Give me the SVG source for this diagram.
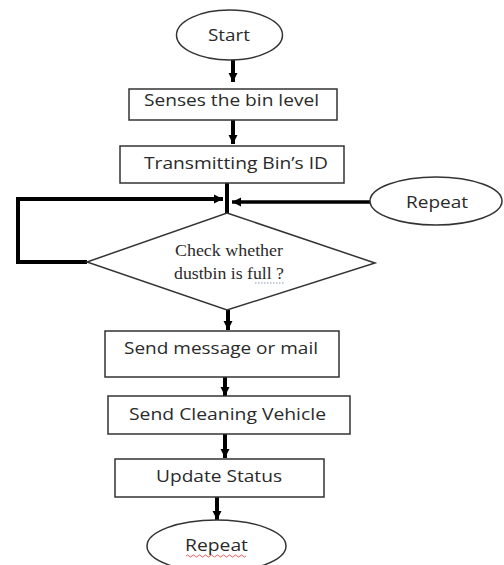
<svg xmlns="http://www.w3.org/2000/svg" width="504" height="565" viewBox="0 0 504 565">
<defs>
<style>
.box{fill:#fff;stroke:#333;stroke-width:1.5}
.t{font-family:"Open Sans","Liberation Sans",sans-serif;font-size:17px;fill:#2a2a2a;text-anchor:middle}
.s{font-family:"Liberation Serif",serif;font-size:16.5px;fill:#2a2a2a;text-anchor:middle}
.c{fill:none;stroke:#000;stroke-width:4}
</style>
<marker id="ah" markerUnits="userSpaceOnUse" markerWidth="10" markerHeight="10" viewBox="0 0 10 10" refX="9" refY="5" orient="auto">
<path d="M0,0.5 L9,5 L0,9.5 Z" fill="#000"/>
</marker>
</defs>
<rect width="504" height="565" fill="#fff"/>
<g id="connectors">
<path class="c" d="M233,60 V82" marker-end="url(#ah)"/>
<path class="c" d="M233,120 V144" marker-end="url(#ah)"/>
<path class="c" d="M227,183 V216"/>
<path class="c" d="M87,262 H18 V199 H223" marker-end="url(#ah)"/>
<path class="c" d="M370,202 H232" style="stroke-width:3.5" marker-end="url(#ah)"/>
<path class="c" d="M228,310 V330" marker-end="url(#ah)"/>
<path class="c" d="M225,377 V396" marker-end="url(#ah)"/>
<path class="c" d="M225,434 V458" marker-end="url(#ah)"/>
<path class="c" d="M217,497 V520" marker-end="url(#ah)"/>
</g>
<g id="start">
<ellipse class="box" cx="229.5" cy="35" rx="53" ry="25"/>
<text class="t" x="229" y="41" textLength="42" lengthAdjust="spacingAndGlyphs">Start</text>
</g>
<g id="senses">
<rect class="box" x="129" y="89" width="208" height="31"/>
<text class="t" x="231.5" y="106" textLength="175" lengthAdjust="spacingAndGlyphs">Senses the bin level</text>
</g>
<g id="transmit">
<rect class="box" x="120" y="146" width="224" height="37"/>
<text class="t" x="236" y="169" textLength="184" lengthAdjust="spacingAndGlyphs">Transmitting Bin’s ID</text>
</g>
<g id="repeat-right">
<ellipse class="box" cx="436" cy="201" rx="66" ry="24"/>
<text class="t" x="437" y="208" textLength="62" lengthAdjust="spacingAndGlyphs">Repeat</text>
</g>
<g id="check">
<polygon class="box" points="227,213 375,263 227,310 87,262"/>
<text class="s" x="229" y="256" textLength="108" lengthAdjust="spacingAndGlyphs">Check whether</text>
<text class="s" x="229" y="279" textLength="110" lengthAdjust="spacingAndGlyphs">dustbin is full ?</text>
<path d="M255,283 H285" stroke="#8899aa" stroke-width="1" stroke-dasharray="1.5,1.5" fill="none"/>
</g>
<g id="send-message">
<rect class="box" x="105" y="331" width="234" height="46"/>
<text class="t" x="221" y="354" textLength="194" lengthAdjust="spacingAndGlyphs">Send message or mail</text>
</g>
<g id="send-vehicle">
<rect class="box" x="108" y="396" width="242" height="38"/>
<text class="t" x="227.5" y="420" textLength="197" lengthAdjust="spacingAndGlyphs">Send Cleaning Vehicle</text>
</g>
<g id="update">
<rect class="box" x="115" y="459" width="209" height="38"/>
<text class="t" x="219" y="482" textLength="126" lengthAdjust="spacingAndGlyphs">Update Status</text>
</g>
<g id="repeat-bottom">
<ellipse class="box" cx="216.5" cy="546" rx="69.5" ry="26"/>
<text class="t" x="216.5" y="551" textLength="63" lengthAdjust="spacingAndGlyphs">Repeat</text>
<path d="M186,556 q1.5,-2 3,0 t3,0 t3,0 t3,0 t3,0 t3,0 t3,0 t3,0 t3,0 t3,0 t3,0 t3,0 t3,0 t3,0 t3,0 t3,0 t3,0 t3,0 t3,0 t3,0" stroke="#d33" stroke-width="0.8" fill="none"/>
</g>
</svg>
